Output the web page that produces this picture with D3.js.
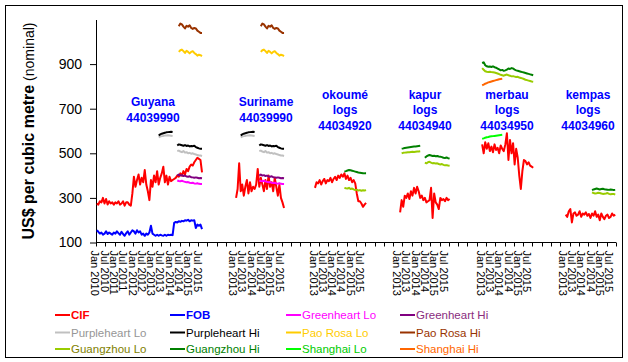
<!DOCTYPE html>
<meta charset="utf-8">
<style>
body { margin: 0; background: #fff; }
* { font-family: "Liberation Sans", Arial, sans-serif; }
.series { fill: none; stroke-width: 2; stroke-linejoin: round; }
.ylab text { font-size: 14px; }
.xlab { font-size: 11px; }
.title { font-size: 12px; font-weight: bold; fill: #0000ff; }
.legend text { font-size: 11.5px; }
</style>
<body>
<script src="https://d3js.org/d3.v7.min.js"></script>
<script>
// blocks along the category axis (months, with blank categories between blocks)
var blockNames = ["Guyana", "Suriname", "okoume", "kapur", "merbau", "kempas"];
var blockTitles = [["Guyana", "44039990"], ["Suriname", "44039990"], ["okoumé", "logs", "44034920"],
                   ["kapur", "logs", "44034940"], ["merbau", "logs", "44034950"], ["kempas", "logs", "44034960"]];
var blockFirstMonth = ["2010-01", "2013-01", "2013-01", "2013-01", "2013-01", "2013-01"];
var blockMonths = [70, 34, 34, 34, 34, 34];
var blockGapAfter = [19, 18, 20, 20, 19, 0];
var labelMonths = [0, 6]; // Jan, Jul
var monthNames = ["Jan", "Feb", "Mar", "Apr", "May", "Jun", "Jul", "Aug", "Sep", "Oct", "Nov", "Dec"];
var yTicks = [100, 300, 500, 700, 900];

// US$ per m3, monthly
var guyanaCIF = [275, 270, 285, 280, 300, 275, 295, 270, 285, 275, 280, 270,
  280, 275, 285, 270, 275, 285, 265, 280, 280, 270, 265, 320,
  395, 350, 380, 405, 360, 390, 370, 425, 360, 330, 290, 380,
  350, 400, 370, 420, 360, 390, 410, 440, 370, 400, 360, 395,
  375, 380, 385, 390, 400, 395, 410, 400, 420, 405, 430, 420,
  440, 450, 445, 460, 470, 480, 475, 470, 415];
var guyanaFOB = [155, 148, 140, 145, 135, 140, 150, 138, 145, 140, 135, 145,
  140, 150, 142, 135, 148, 138, 130, 142, 150, 135, 145, 155,
  150, 140, 155, 145, 150, 135, 140, 130, 140, 135, 145, 175,
  140, 135, 130, 135, 130, 135, 132, 130, 135, 130, 135, 133,
  135, 133, 188, 192, 190, 195, 193, 197, 195, 200, 198, 202,
  195, 200, 198, 200, 165, 180, 175, 180, 160];
var surinameCIF = [300, 340, 455, 330, 360, 310, 350, 380, 320, 370, 330, 350,
  340, 360, 430, 350, 390, 360, 330, 380, 340, 400, 350, 370,
  330, 390, 350, 310, 360, 300, 280, 255];
var greenheartLo = [378, 376, 375, 377, 374, 372, 370, 371, 368, 367, 368, 365, 364, 366, 363, 362, 362];
var greenheartHi = [400, 405, 400, 402, 398, 400, 396, 395, 397, 393, 392, 390, 392, 390, 388, 389, 388];
var purpleheartLo = [572, 575, 577, 578, 580, 580, 581, 580, 579, 578, null, null,
  510, 512, 508, 505, 510, 503, 505, 500, 502, 498, 500, 497, 495, 492, 490, 490, 488];
var purpleheartHi = [580, 585, 588, 590, 592, 594, 595, 596, 597, 596, null, null,
  535, 540, 538, 536, 534, 537, 533, 535, 531, 533, 532, 534, 528, 525, 522, 520, 520];
var paoRosaLo = [955, 962, 965, 958, 950, 960, 955, 948, 955, 958, 950, 945, 938, 942, 940, 936];
var paoRosaHi = [1070, 1082, 1078, 1068, 1060, 1072, 1068, 1074, 1062, 1058, 1062, 1060, 1050, 1045, 1040, 1040];

var okoumeCIF = [345, 370, 365, 380, 360, 375, 385, 365, 380, 375, 390, 370,
  385, 395, 380, 400, 390, 405, 395, 410, 385, 400, 380, 390,
  370, 380, 365, 320, 285, 285, 275, 260, 270, 278];
var okoumeGzLo = [345, 343, 342, 345, 340, 342, 338, 335, 337, 333, 335, 332, 334, 333, 335];
var okoumeGzHi = [418, 420, 423, 425, 424, 422, 420, 418, 416, 414, 413, 412, 411, 410, 410];

var kapurCIF = [235, 290, 260, 310, 300, 320, 295, 330, 310, 345, 320, 350,
  330, 300, 310, 290, 300, 280, 285, 290, 345, 210, 320, 280,
  270, 250, 300, 290, 295, 285, 300, 290, 295];
var kapurGzLo = [500, 502, 503, 504, 505, 505, 506, 507, 506, 507, 508, 508, 509, null, null,
  458, 455, 460, 462, 458, 455, 456, 454, 455, 452, 450, 452, 448, 446, 447, 445, 444];
var kapurGzHi = [521, 522, 524, 525, 526, 527, 528, 529, 530, 531, 532, 533, 534, null, null,
  480, 486, 490, 492, 490, 488, 489, 487, 488, 486, 485, 483, 480, 479, 481, 478, 476];

var merbauCIF = [540, 500, 550, 520, 545, 510, 530, 505, 540, 515, 525, 500,
  535, 520, 510, 540, 590, 470, 560, 500, 545, 450, 520, 480,
  400, 340, 420, 470, 465, 450, 460, 445, 440, 435];
var merbauGzLo = [882, 875, 868, 866, 865, 866, 864, 863, 862, 860, 858, 855,
  852, 850, 848, 851, 853, 850, 848, 845, 846, 844, 842, 843,
  840, 838, 836, 833, 830, 828, 826, 824, 822, 821];
var merbauGzHi = [905, 908, 895, 890, 888, 889, 887, 890, 886, 884, 880, 876,
  872, 874, 870, 872, 875, 880, 878, 882, 880, 875, 872, 870,
  868, 866, 864, 862, 860, 858, 856, 854, 852, 850];
var merbauShLo = [565, 567, 570, 572, 573, 575, 576, 577, 578, 579, 580, 581, 582, 583];
var merbauShHi = [805, 808, 812, 815, 818, 820, 822, 824, 826, 828, 830, 832, 833, 834];

var kempasCIF = [225, 215, 240, 250, 190, 230, 235, 220, 225, 240, 215, 230,
  225, 235, 220, 228, 210, 230, 220, 240, 215, 225, 200, 230,
  215, 205, 220, 225, 210, 215, 230, 220, 225];
var kempasGzLo = [325, 322, 320, 321, 323, 322, 320, 318, 319, 320, 322, 318, 316, 317, 318, 315];
var kempasGzHi = [335, 338, 340, 342, 340, 338, 340, 341, 339, 338, 337, 336, 338, 337, 335, 336];

var legendNames = ["CIF", "FOB", "Greenheart Lo", "Greenheart Hi",
  "Purpleheart Lo", "Purpleheart Hi", "Pao Rosa Lo", "Pao Rosa Hi",
  "Guangzhou Lo", "Guangzhou Hi", "Shanghai Lo", "Shanghai Hi"];
var lineColors = ["#ff0000", "#0000ff", "#ff00ff", "#800080",
  "#c0c0c0", "#000000", "#ffcc00", "#993300",
  "#99cc00", "#008000", "#00ff00", "#ff6600"];
var textColors = ["#ff0000", "#0000ff", "#ff00ff", "#8a2d7e",
  "#969696", "#000000", "#ffcc00", "#993300",
  "#808000", "#008000", "#00cc00", "#ff6600"];

// [block, series, first month, values]
var plots = [
  [0, "CIF", "2010-01", guyanaCIF], [0, "FOB", "2010-01", guyanaFOB],
  [0, "Greenheart Lo", "2014-05", greenheartLo], [0, "Greenheart Hi", "2014-05", greenheartHi],
  [0, "Purpleheart Lo", "2013-05", purpleheartLo], [0, "Purpleheart Hi", "2013-05", purpleheartHi],
  [0, "Pao Rosa Lo", "2014-06", paoRosaLo], [0, "Pao Rosa Hi", "2014-06", paoRosaHi],
  [1, "CIF", "2013-02", surinameCIF],
  [1, "Greenheart Lo", "2014-05", greenheartLo], [1, "Greenheart Hi", "2014-05", greenheartHi],
  [1, "Purpleheart Lo", "2013-05", purpleheartLo], [1, "Purpleheart Hi", "2013-05", purpleheartHi],
  [1, "Pao Rosa Lo", "2014-06", paoRosaLo], [1, "Pao Rosa Hi", "2014-06", paoRosaHi],
  [2, "CIF", "2013-01", okoumeCIF],
  [2, "Guangzhou Lo", "2014-08", okoumeGzLo], [2, "Guangzhou Hi", "2014-08", okoumeGzHi],
  [3, "CIF", "2013-02", kapurCIF],
  [3, "Guangzhou Lo", "2013-03", kapurGzLo], [3, "Guangzhou Hi", "2013-03", kapurGzHi],
  [4, "Guangzhou Lo", "2013-01", merbauGzLo], [4, "Guangzhou Hi", "2013-01", merbauGzHi],
  [4, "Shanghai Lo", "2013-01", merbauShLo], [4, "Shanghai Hi", "2013-01", merbauShHi],
  [4, "CIF", "2013-01", merbauCIF],
  [5, "CIF", "2013-02", kempasCIF],
  [5, "Guangzhou Lo", "2014-07", kempasGzLo], [5, "Guangzhou Hi", "2014-07", kempasGzHi]
];

function monthIndex(s) {
  var p = s.split("-");
  return +p[0] * 12 + (+p[1] - 1);
}

// build categories
var categories = [], labelCats = [];
blockNames.forEach(function(b, bi) {
  var m0 = monthIndex(blockFirstMonth[bi]);
  for (var k = 0; k < blockMonths[bi]; k++) {
    var m = m0 + k;
    categories.push(bi + ":" + m);
    if (labelMonths.indexOf(m % 12) >= 0 && k < blockMonths[bi] - 3)
      labelCats.push({key: bi + ":" + m, text: monthNames[m % 12] + " " + Math.floor(m / 12)});
  }
  for (var g = 0; g < blockGapAfter[bi]; g++) categories.push("gap" + bi + ":" + g);
});

var width = 628, height = 362;
var plot = {left: 96, right: 616, top: 19.5, bottom: 242.5};
var titleX = [153, 266, 345, 425, 507, 588];

var svg = d3.select("body").append("svg")
    .attr("width", width)
    .attr("height", height);

svg.append("rect")
    .attr("x", 5.5).attr("y", 5.5)
    .attr("width", 617).attr("height", 352)
    .attr("fill", "#fff").attr("stroke", "#000");

var x = d3.scaleBand().domain(categories).range([plot.left, plot.right]).padding(0);
var y = d3.scaleLinear().domain([100, 1100]).range([plot.bottom, plot.top]);
var cx = function(k) { return x(k) + x.bandwidth() / 2; };

// y axis
var yAxis = svg.append("g")
    .attr("class", "ylab")
    .attr("transform", "translate(" + plot.left + ",0)")
    .call(d3.axisLeft(y).tickValues(yTicks).tickSize(6).tickSizeOuter(0).tickPadding(8));
yAxis.selectAll("path,line").attr("stroke", "#000");
yAxis.selectAll("text").attr("fill", "#000").style("font-size", "14px");

// x axis line + ticks every 6 categories
svg.append("line")
    .attr("x1", plot.left).attr("x2", plot.right)
    .attr("y1", y(100)).attr("y2", y(100))
    .attr("stroke", "#000");
svg.selectAll(".xtick")
    .data(d3.range(0, categories.length + 1, 6))
  .enter().append("line")
    .attr("class", "xtick")
    .attr("x1", function(i) { return Math.round(plot.left + i * x.step()) + 0.5; })
    .attr("x2", function(i) { return Math.round(plot.left + i * x.step()) + 0.5; })
    .attr("y1", y(100)).attr("y2", y(100) + 4)
    .attr("stroke", "#000");

svg.selectAll(".xlab")
    .data(labelCats)
  .enter().append("text")
    .attr("class", "xlab")
    .attr("transform", function(d) { return "translate(" + (cx(d.key) - 1.5) + "," + (y(100) + 8) + ") rotate(90)"; })
    .attr("dy", ".35em")
    .text(function(d) { return d.text; });

// y title
var yt = svg.append("text")
    .attr("transform", "translate(28,131) rotate(-90)")
    .attr("text-anchor", "middle")
    .attr("dy", ".35em")
    .style("font-size", "16px");
yt.append("tspan").style("font-weight", "bold").text("US$ per cubic metre");
yt.append("tspan").style("font-size", "14px").text(" (nominal)");

// block titles
blockTitles.forEach(function(lines, bi) {
  var t = svg.append("text")
      .attr("class", "title")
      .attr("text-anchor", "middle");
  lines.forEach(function(s, li) {
    t.append("tspan")
        .attr("x", titleX[bi])
        .attr("y", 110 + (li - (lines.length - 1) / 2) * 15.5 + 4)
        .text(s);
  });
});

// series lines
var line = d3.line()
    .defined(function(d) { return d.v != null; })
    .x(function(d) { return cx(d.key); })
    .y(function(d) { return y(d.v); });

plots.forEach(function(p) {
  var m0 = monthIndex(p[2]);
  var pts = p[3].map(function(v, k) { return {key: p[0] + ":" + (m0 + k), v: v}; });
  svg.append("path")
      .attr("class", "series")
      .attr("d", line(pts))
      .attr("stroke", lineColors[legendNames.indexOf(p[1])]);
});

// legend
var legendCols = [55, 170, 286, 400];
var legendRows = [315, 332.5, 349];
var lg = svg.selectAll(".legend")
    .data(legendNames)
  .enter().append("g")
    .attr("class", "legend")
    .attr("transform", function(d, i) { return "translate(" + legendCols[i % 4] + "," + legendRows[Math.floor(i / 4)] + ")"; });
lg.append("line")
    .attr("x1", 0).attr("x2", 15)
    .attr("stroke-width", 2)
    .attr("stroke", function(d, i) { return lineColors[i]; });
lg.append("text")
    .attr("x", 16)
    .attr("dy", ".35em")
    .style("font-weight", function(d, i) { return i < 2 ? "bold" : "normal"; })
    .attr("fill", function(d, i) { return textColors[i]; })
    .text(function(d) { return d; });
</script>
